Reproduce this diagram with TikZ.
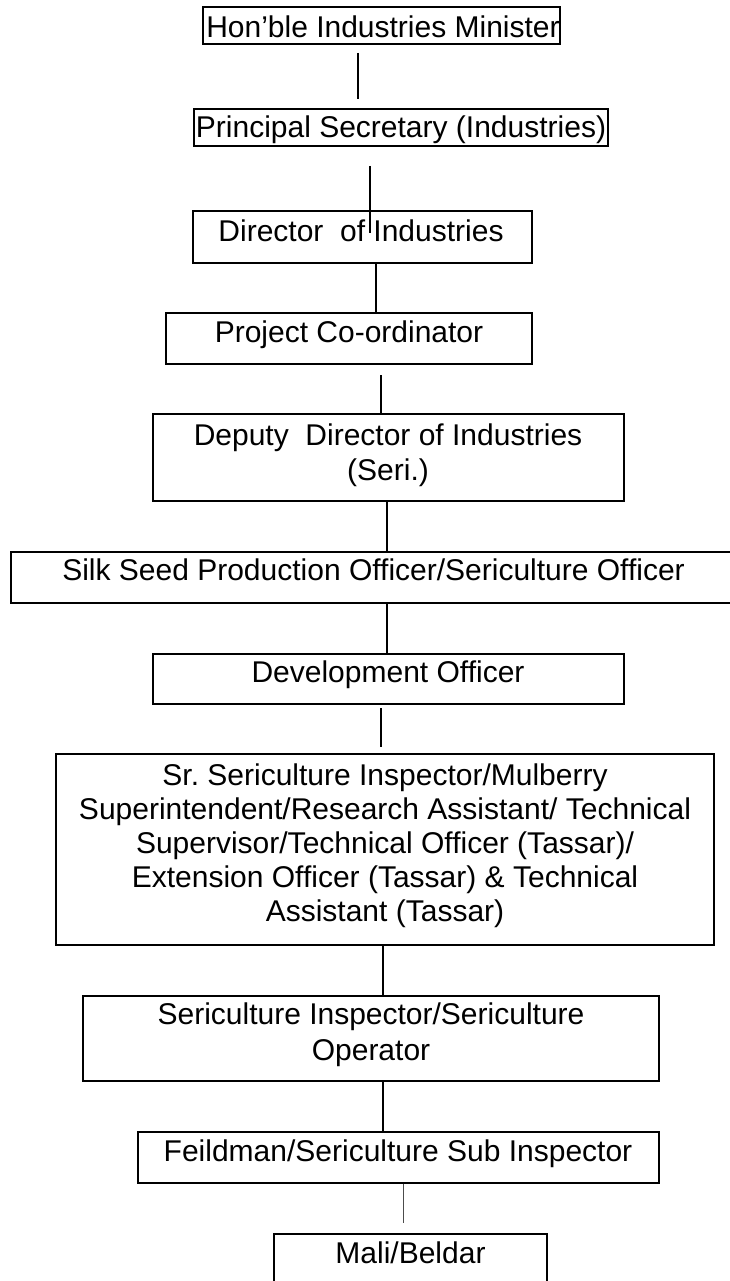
\documentclass[tikz,border=0pt]{standalone}
\usepackage{fontspec}
\setmainfont{Liberation Sans}
\frenchspacing
\begin{document}
\begin{tikzpicture}[x=1pt,y=-1pt,
  boxshape/.style={draw, line width=1.4pt, inner sep=0pt, rectangle},
  txt/.style={inner sep=0pt, font=\fontsize{30}{34}\selectfont, text height=21.6pt, text depth=6.3pt},
  mtxt/.style={inner sep=0pt, align=center, font=\fontsize{30}{34}\selectfont},
  conn/.style={line width=1.3pt},
  thinconn/.style={line width=0.9pt, black!70}]
\useasboundingbox (0,0) rectangle (729,1281);

% boxes
\node[boxshape, minimum width=357pt, minimum height=37pt] (b1) at (381.5,25.5) {};
\node[boxshape, minimum width=414pt, minimum height=37pt] (b2) at (401,127.5) {};
\node[boxshape, minimum width=339pt, minimum height=52pt] (b3) at (362.5,237) {};
\node[boxshape, minimum width=366pt, minimum height=51pt] (b4) at (349,338.5) {};
\node[boxshape, minimum width=471pt, minimum height=87pt] (b5) at (388.5,457.5) {};
\node[boxshape, minimum width=725pt, minimum height=51pt] (b6) at (373.5,577.5) {};
\node[boxshape, minimum width=471pt, minimum height=50pt] (b7) at (388.5,679) {};
\node[boxshape, minimum width=658pt, minimum height=191pt] (b8) at (385,849.5) {};
\node[boxshape, minimum width=576pt, minimum height=85pt] (b9) at (371,1038.5) {};
\node[boxshape, minimum width=521pt, minimum height=51pt] (b10) at (398.5,1157.5) {};
\node[boxshape, minimum width=273pt, minimum height=56pt] (b11) at (410.5,1262) {};

% texts
\node[txt] (t1) at (383,29.4) {Hon’ble Industries Minister};
\node[txt] (t2) at (401,130) {Principal Secretary (Industries)};
\node[txt] (t3) at (361,234) {Director\ \ of Industries};
\node[txt] (t4) at (349,335) {Project Co-ordinator};
\node[mtxt, font=\fontsize{30}{35.5}\selectfont] (t5) at (388,455) {Deputy\ \ Director of Industries\\(Seri.)};
\node[txt] (t6) at (373.5,573) {Silk Seed Production Officer/Sericulture Officer};
\node[txt] (t7) at (388,675) {Development Officer};
\node[mtxt] (t8) at (385,845.5) {Sr. Sericulture Inspector/Mulberry\\Superintendent/Research Assistant/ Technical\\Supervisor/Technical Officer (Tassar)/\\Extension Officer (Tassar) \& Technical\\Assistant (Tassar)};
\node[mtxt, font=\fontsize{30}{35.5}\selectfont] (t9) at (371,1034.5) {Sericulture Inspector/Sericulture\\Operator};
\node[txt] (t10) at (398,1154) {Feildman/Sericulture Sub Inspector};
\node[txt] (t11) at (410.5,1256) {Mali/Beldar};

% connector coordinates
\coordinate (l1a) at (358,53);
\coordinate (l1b) at (358,99);
\coordinate (l2a) at (370,166);
\coordinate (l2b) at (370,233);
\coordinate (l3) at (376,0);
\coordinate (l4a) at (381,375);
\coordinate (l5) at (387,0);
\coordinate (l7a) at (381,708);
\coordinate (l7b) at (381,747);
\coordinate (l8) at (383,0);
\coordinate (l10b) at (403,1223);

% connectors
\draw[conn] (l1a) -- (l1b);
\draw[conn] (l2a) -- (l2b);
\draw[conn] (b3.south -| l3) -- (b4.north -| l3);
\draw[conn] (l4a) -- (b5.north -| l4a);
\draw[conn] (b5.south -| l5) -- (b6.north -| l5);
\draw[conn] (b6.south -| l5) -- (b7.north -| l5);
\draw[conn] (l7a) -- (l7b);
\draw[conn] (b8.south -| l8) -- (b9.north -| l8);
\draw[conn] (b9.south -| l8) -- (b10.north -| l8);
\draw[thinconn] (b10.south -| l10b) -- (l10b);
\end{tikzpicture}
\end{document}
